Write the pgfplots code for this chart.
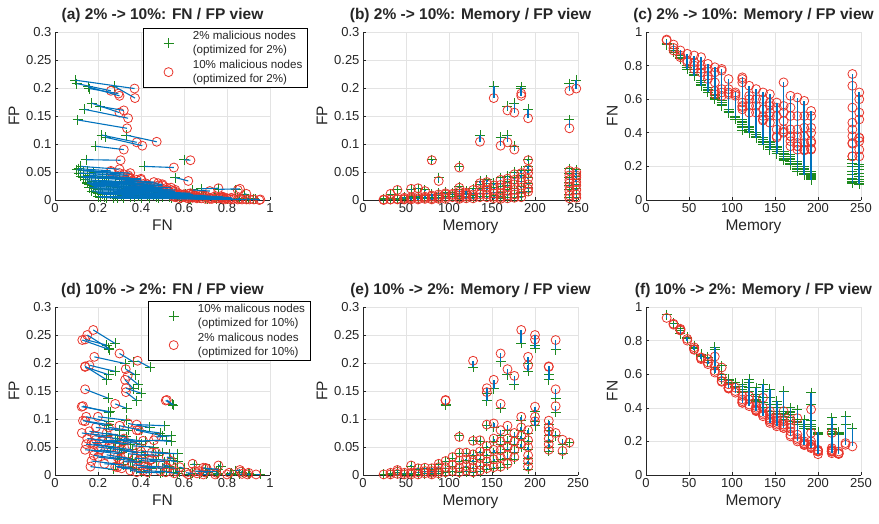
\documentclass[border=0pt]{standalone}
\usepackage{fontspec}
\setmainfont{Liberation Sans}
\usepackage{pgfplots}
\usepackage{pgfplotstable}
\pgfplotsset{compat=1.18}
\definecolor{mgreen}{HTML}{1E8A1E}
\definecolor{mred}{HTML}{E8352B}
\definecolor{mblue}{HTML}{0072BD}
\definecolor{axgray}{HTML}{262626}
\definecolor{gridgray}{HTML}{E3E3E3}

% mem, FN/FP of the + series (A), FN/FP of the o series (B)
\pgfplotstableread{
mem fnA fpA fnB fpB
24 0.930 0.001 0.955 0.001
24 0.925 0.002 0.950 0.000
32 0.880 0.010 0.890 0.011
32 0.890 0.002 0.905 0.001
32 0.900 0.001 0.925 0.001
40 0.840 0.018 0.850 0.018
40 0.850 0.003 0.860 0.002
40 0.860 0.001 0.890 0.001
48 0.780 0.005 0.820 0.004
48 0.790 0.003 0.830 0.002
48 0.800 0.001 0.870 0.001
56 0.760 0.019 0.860 0.020
56 0.740 0.006 0.780 0.005
56 0.745 0.004 0.800 0.003
56 0.750 0.002 0.820 0.001
64 0.680 0.020 0.760 0.021
64 0.690 0.007 0.780 0.006
64 0.700 0.004 0.800 0.003
64 0.710 0.002 0.850 0.001
72 0.640 0.018 0.720 0.016
72 0.650 0.008 0.740 0.006
72 0.660 0.005 0.780 0.004
72 0.670 0.003 0.810 0.002
80 0.600 0.072 0.630 0.071
80 0.605 0.010 0.650 0.008
80 0.610 0.008 0.700 0.006
80 0.620 0.004 0.760 0.003
80 0.630 0.002 0.790 0.001
88 0.560 0.040 0.620 0.034
88 0.565 0.012 0.640 0.010
88 0.570 0.009 0.660 0.007
88 0.580 0.005 0.770 0.004
88 0.590 0.003 0.780 0.002
96 0.520 0.014 0.630 0.012
96 0.525 0.012 0.640 0.010
96 0.530 0.006 0.660 0.005
96 0.540 0.003 0.720 0.002
104 0.480 0.013 0.620 0.011
104 0.490 0.010 0.630 0.009
104 0.500 0.006 0.640 0.005
112 0.415 0.060 0.553 0.058
112 0.430 0.024 0.540 0.022
112 0.440 0.018 0.560 0.015
112 0.450 0.012 0.580 0.011
112 0.460 0.009 0.700 0.008
112 0.470 0.006 0.720 0.004
112 0.480 0.003 0.730 0.002
120 0.400 0.016 0.520 0.013
120 0.410 0.012 0.560 0.011
120 0.420 0.010 0.600 0.009
120 0.430 0.007 0.620 0.006
120 0.440 0.004 0.680 0.003
128 0.370 0.020 0.520 0.018
128 0.380 0.012 0.560 0.010
128 0.390 0.008 0.600 0.007
128 0.400 0.004 0.660 0.003
136 0.330 0.116 0.473 0.104
136 0.340 0.034 0.480 0.030
136 0.345 0.028 0.500 0.026
136 0.350 0.020 0.540 0.018
136 0.360 0.012 0.600 0.010
136 0.370 0.006 0.640 0.005
144 0.300 0.036 0.460 0.032
144 0.310 0.030 0.500 0.028
144 0.320 0.024 0.520 0.022
144 0.330 0.020 0.560 0.018
144 0.340 0.012 0.580 0.010
144 0.350 0.006 0.630 0.005
152 0.276 0.203 0.372 0.182
152 0.280 0.030 0.380 0.026
152 0.290 0.022 0.420 0.020
152 0.300 0.014 0.500 0.012
152 0.310 0.008 0.550 0.006
152 0.320 0.004 0.580 0.003
160 0.236 0.112 0.406 0.097
160 0.240 0.040 0.400 0.036
160 0.250 0.030 0.420 0.027
160 0.260 0.024 0.470 0.022
160 0.270 0.014 0.520 0.012
160 0.280 0.007 0.560 0.005
160 0.290 0.003 0.700 0.002
168 0.210 0.167 0.320 0.160
168 0.217 0.116 0.380 0.103
168 0.220 0.042 0.350 0.038
168 0.230 0.034 0.380 0.030
168 0.240 0.026 0.420 0.024
168 0.250 0.018 0.500 0.016
168 0.260 0.010 0.550 0.008
168 0.270 0.004 0.620 0.003
176 0.170 0.173 0.300 0.156
176 0.190 0.096 0.320 0.090
176 0.180 0.050 0.320 0.046
176 0.190 0.040 0.340 0.036
176 0.200 0.030 0.380 0.028
176 0.210 0.020 0.420 0.018
176 0.220 0.012 0.500 0.010
176 0.230 0.005 0.610 0.004
184 0.155 0.202 0.300 0.186
184 0.160 0.199 0.295 0.190
184 0.150 0.052 0.300 0.048
184 0.160 0.044 0.340 0.040
184 0.170 0.034 0.380 0.032
184 0.180 0.024 0.430 0.022
184 0.190 0.014 0.500 0.012
184 0.200 0.006 0.590 0.005
192 0.136 0.162 0.340 0.146
192 0.144 0.072 0.305 0.071
192 0.120 0.060 0.300 0.055
192 0.130 0.052 0.350 0.048
192 0.140 0.040 0.400 0.038
192 0.150 0.030 0.430 0.028
192 0.160 0.022 0.500 0.020
192 0.170 0.016 0.530 0.015
240 0.100 0.208 0.260 0.195
240 0.105 0.143 0.335 0.128
240 0.110 0.056 0.260 0.052
240 0.120 0.048 0.340 0.044
240 0.130 0.040 0.380 0.036
240 0.150 0.032 0.420 0.030
240 0.170 0.026 0.460 0.024
240 0.200 0.018 0.550 0.016
240 0.220 0.010 0.680 0.008
240 0.240 0.004 0.750 0.003
248 0.095 0.214 0.370 0.199
248 0.100 0.054 0.260 0.050
248 0.110 0.048 0.300 0.044
248 0.120 0.042 0.350 0.040
248 0.140 0.036 0.370 0.032
248 0.160 0.028 0.480 0.026
248 0.180 0.020 0.520 0.018
248 0.200 0.012 0.600 0.010
248 0.210 0.005 0.640 0.004
}\toptab

\pgfplotstableread{
mem fnA fpA fnB fpB
24 0.955 0.001 0.935 0.001
32 0.900 0.003 0.900 0.004
32 0.905 0.001 0.895 0.001
40 0.870 0.005 0.865 0.006
40 0.860 0.001 0.870 0.002
40 0.840 0.008 0.860 0.009
48 0.820 0.003 0.810 0.004
48 0.815 0.001 0.800 0.001
56 0.770 0.016 0.760 0.017
56 0.760 0.003 0.750 0.004
56 0.755 0.001 0.745 0.001
64 0.720 0.010 0.700 0.012
64 0.710 0.004 0.695 0.005
64 0.705 0.001 0.690 0.001
72 0.700 0.012 0.690 0.013
72 0.680 0.006 0.670 0.007
72 0.670 0.002 0.660 0.003
80 0.760 0.010 0.705 0.012
80 0.750 0.006 0.650 0.007
80 0.640 0.003 0.610 0.004
80 0.630 0.001 0.620 0.001
88 0.650 0.018 0.640 0.020
88 0.600 0.012 0.580 0.014
88 0.580 0.006 0.560 0.007
88 0.570 0.002 0.555 0.003
96 0.550 0.125 0.520 0.134
96 0.545 0.126 0.515 0.133
96 0.570 0.024 0.540 0.025
96 0.560 0.012 0.520 0.014
96 0.550 0.004 0.515 0.005
104 0.550 0.030 0.520 0.032
104 0.530 0.016 0.500 0.018
104 0.520 0.006 0.490 0.007
112 0.540 0.070 0.470 0.068
112 0.530 0.038 0.450 0.040
112 0.510 0.024 0.440 0.026
112 0.500 0.012 0.430 0.014
112 0.490 0.004 0.430 0.005
120 0.570 0.038 0.470 0.040
120 0.550 0.026 0.450 0.028
120 0.520 0.014 0.420 0.016
120 0.500 0.006 0.410 0.008
128 0.442 0.192 0.384 0.204
128 0.520 0.062 0.410 0.061
128 0.480 0.035 0.400 0.037
128 0.470 0.024 0.390 0.026
128 0.450 0.012 0.385 0.014
128 0.440 0.004 0.380 0.005
136 0.540 0.060 0.460 0.062
136 0.500 0.040 0.400 0.042
136 0.460 0.028 0.370 0.030
136 0.430 0.016 0.360 0.018
136 0.400 0.006 0.350 0.008
144 0.400 0.146 0.330 0.155
144 0.380 0.133 0.330 0.148
144 0.510 0.088 0.380 0.090
144 0.460 0.050 0.360 0.052
144 0.420 0.035 0.340 0.038
144 0.400 0.022 0.320 0.024
144 0.380 0.010 0.310 0.012
152 0.364 0.154 0.326 0.170
152 0.440 0.085 0.340 0.092
152 0.420 0.060 0.320 0.065
152 0.400 0.040 0.310 0.045
152 0.380 0.025 0.300 0.028
152 0.360 0.012 0.290 0.014
160 0.364 0.202 0.300 0.217
160 0.333 0.119 0.280 0.127
160 0.500 0.070 0.380 0.080
160 0.400 0.055 0.320 0.060
160 0.380 0.040 0.300 0.044
160 0.360 0.028 0.290 0.032
160 0.350 0.014 0.280 0.015
168 0.372 0.179 0.329 0.189
168 0.400 0.080 0.300 0.088
168 0.380 0.060 0.280 0.065
168 0.360 0.045 0.260 0.050
168 0.340 0.030 0.240 0.036
168 0.320 0.018 0.230 0.020
176 0.388 0.161 0.338 0.177
176 0.330 0.068 0.240 0.075
176 0.320 0.055 0.220 0.060
176 0.310 0.040 0.210 0.045
176 0.300 0.028 0.200 0.032
184 0.279 0.235 0.178 0.259
184 0.330 0.098 0.200 0.104
184 0.300 0.080 0.190 0.085
184 0.290 0.065 0.185 0.070
184 0.280 0.050 0.180 0.055
192 0.326 0.199 0.183 0.211
192 0.280 0.185 0.160 0.196
192 0.490 0.075 0.390 0.080
192 0.420 0.060 0.250 0.062
192 0.300 0.045 0.200 0.050
192 0.290 0.030 0.180 0.035
192 0.280 0.020 0.170 0.025
192 0.270 0.010 0.165 0.015
200 0.250 0.226 0.150 0.250
200 0.240 0.232 0.140 0.242
200 0.256 0.113 0.124 0.122
200 0.250 0.095 0.145 0.104
200 0.240 0.088 0.140 0.096
216 0.250 0.179 0.140 0.193
216 0.240 0.170 0.140 0.194
216 0.250 0.090 0.130 0.097
216 0.340 0.080 0.250 0.085
216 0.300 0.070 0.160 0.078
216 0.280 0.060 0.150 0.065
216 0.270 0.050 0.145 0.055
216 0.260 0.042 0.140 0.045
224 0.253 0.224 0.127 0.241
224 0.248 0.137 0.140 0.153
224 0.250 0.112 0.130 0.123
224 0.240 0.070 0.125 0.075
232 0.350 0.055 0.190 0.063
232 0.300 0.038 0.180 0.043
240 0.280 0.058 0.170 0.058
}\bottab

\newcommand{\tickfont}{\fontsize{13}{15}\selectfont}
\newcommand{\labfont}{\fontsize{15.5}{18}\selectfont}
\newcommand{\legfont}{\fontsize{11.6}{14}\selectfont}

\pgfplotsset{
  panel/.style={
    scale only axis, width=215pt, height=168pt,
    axis lines*=left,
    axis line style={-, draw=axgray, line width=0.6pt},
    tick align=inside, major tick length=3pt,
    tick style={axgray, line width=0.6pt},
    grid=major, grid style={gridgray, line width=0.6pt},
    title style={font=\labfont\bfseries, text=axgray},
    label style={font=\labfont, text=axgray},
    tick label style={font=\tickfont, text=axgray},
    clip=false, clip marker paths=true
  },
  fnfp/.style={
    xmin=0, xmax=1, ymin=0, ymax=0.3,
    xtick={0,0.2,0.4,0.6,0.8,1}, xticklabels={0,0.2,0.4,0.6,0.8,1},
    ytick={0,0.05,0.1,0.15,0.2,0.25,0.3},
    yticklabels={0,0.05,0.1,0.15,0.2,0.25,0.3},
    xlabel={FN}, ylabel={FP}
  },
  memfp/.style={
    xmin=0, xmax=250, ymin=0, ymax=0.3,
    xtick={0,50,100,150,200,250}, xticklabels={0,50,100,150,200,250},
    ytick={0,0.05,0.1,0.15,0.2,0.25,0.3},
    yticklabels={0,0.05,0.1,0.15,0.2,0.25,0.3},
    xlabel={Memory}, ylabel={FP}
  },
  memfn/.style={
    xmin=0, xmax=250, ymin=0, ymax=1,
    xtick={0,50,100,150,200,250}, xticklabels={0,50,100,150,200,250},
    ytick={0,0.2,0.4,0.6,0.8,1}, yticklabels={0,0.2,0.4,0.6,0.8,1},
    xlabel={Memory}, ylabel={FN}
  },
  leg/.style={
    legend style={at={#1}, anchor=north west, draw=black, line width=0.6pt,
      fill=white, font=\legfont, text=axgray, cells={anchor=west, align=left},
      inner xsep=3pt, inner ysep=1pt, row sep=1pt,
      /tikz/every odd column/.style={column sep=6pt}},
    legend image code/.code={\path (0pt,0pt) (38pt,0pt);
      \draw[##1] plot coordinates {(22pt,0pt)};}
  },
  plusA/.style={only marks, mark=+, mark size=5pt, mgreen,
    mark options={line width=0.9pt}},
  circB/.style={only marks, mark=o, mark size=4.5pt, mred,
    mark options={line width=0.8pt}},
  seg/.style={no markers, mblue, line width=1.1pt, forget plot},
  vseg/.style={draw=none, mark=none, forget plot,
    error bars/.cd, y dir=plus, y explicit, error mark=none,
    error bar style={draw=mblue, line width=1.6pt}}
}

\begin{document}
\begin{tikzpicture}
\path[use as bounding box] (0,0) rectangle (879pt,523pt);

% (a)
\begin{axis}[panel, fnfp, at={(55pt,323pt)}, anchor=south west,
  title={(a) 2\% -> 10\%: FN / FP view}, leg={(0.409,1.024)}]
\addplot[plusA] table[x=fnA, y=fpA] {\toptab};
\addlegendentry{2\% malicious nodes\\(optimized for 2\%)}
\addplot[circB] table[x=fnB, y=fpB] {\toptab};
\addlegendentry{10\% malicious nodes\\(optimized for 2\%)}
\addplot[seg, quiver={u=\thisrow{fnB}-\thisrow{fnA}, v=\thisrow{fpB}-\thisrow{fpA}}]
  table[x=fnA, y=fpA] {\toptab};
\end{axis}

% (b)
\begin{axis}[panel, memfp, at={(363pt,323pt)}, anchor=south west,
  title={(b) 2\% -> 10\%: Memory / FP view}]
\addplot[plusA] table[x=mem, y=fpA] {\toptab};
\addplot[circB] table[x=mem, y=fpB] {\toptab};
\addplot[vseg] table[x=mem, y=fpA, y error expr=\thisrow{fpB}-\thisrow{fpA}] {\toptab};
\end{axis}

% (c)
\begin{axis}[panel, memfn, at={(646pt,323pt)}, anchor=south west,
  title={(c) 2\% -> 10\%: Memory / FP view}]
\addplot[plusA] table[x=mem, y=fnA] {\toptab};
\addplot[circB] table[x=mem, y=fnB] {\toptab};
\addplot[vseg] table[x=mem, y=fnA, y error expr=\thisrow{fnB}-\thisrow{fnA}] {\toptab};
\end{axis}

% (d)
\begin{axis}[panel, fnfp, at={(55pt,48pt)}, anchor=south west,
  title={(d) 10\% -> 2\%: FN / FP view}, leg={(0.433,1.036)}]
\addplot[plusA] table[x=fnA, y=fpA] {\bottab};
\addlegendentry{10\% malicous nodes\\(optimized for 10\%)}
\addplot[circB] table[x=fnB, y=fpB] {\bottab};
\addlegendentry{2\% malicous nodes\\(optimized for 10\%)}
\addplot[seg, quiver={u=\thisrow{fnB}-\thisrow{fnA}, v=\thisrow{fpB}-\thisrow{fpA}}]
  table[x=fnA, y=fpA] {\bottab};
\end{axis}

% (e)
\begin{axis}[panel, memfp, at={(363pt,48pt)}, anchor=south west,
  title={(e) 10\% -> 2\%: Memory / FP view}]
\addplot[plusA] table[x=mem, y=fpA] {\bottab};
\addplot[circB] table[x=mem, y=fpB] {\bottab};
\addplot[vseg] table[x=mem, y=fpA, y error expr=\thisrow{fpB}-\thisrow{fpA}] {\bottab};
\end{axis}

% (f)
\begin{axis}[panel, memfn, at={(646pt,48pt)}, anchor=south west,
  title={(f) 10\% -> 2\%: Memory / FP view}]
\addplot[plusA] table[x=mem, y=fnA] {\bottab};
\addplot[circB] table[x=mem, y=fnB] {\bottab};
\addplot[vseg] table[x=mem, y=fnA, y error expr=\thisrow{fnB}-\thisrow{fnA}] {\bottab};
\end{axis}
\end{tikzpicture}
\end{document}
